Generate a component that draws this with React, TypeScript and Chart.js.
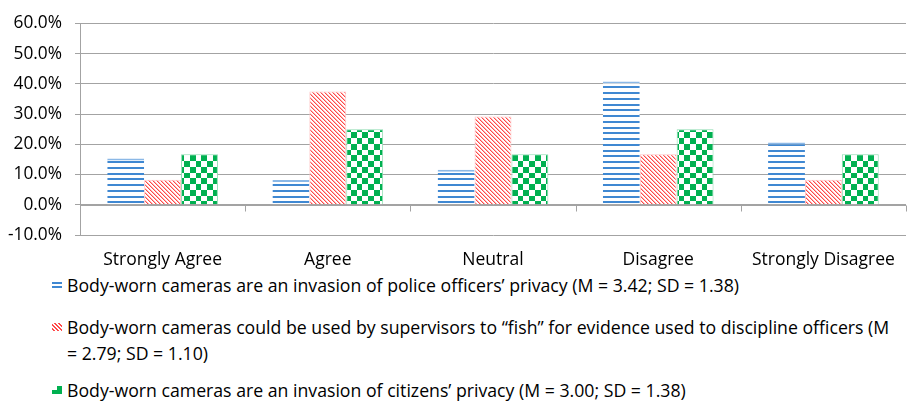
import React, { useEffect, useRef } from "react";
import { Chart, registerables } from "chart.js";

Chart.register(...registerables);

const categories = ["Strongly Agree", "Agree", "Neutral", "Disagree", "Strongly Disagree"];
const policePrivacy = [15.3, 8.2, 11.6, 40.8, 20.6];
const fishEvidence = [8.3, 37.5, 29.2, 16.7, 8.3];
const citizensPrivacy = [16.7, 25.0, 16.7, 25.0, 16.7];
const seriesLabels = [
  "Body-worn cameras are an invasion of police officers\u2019 privacy (M = 3.42; SD = 1.38)",
  "Body-worn cameras could be used by supervisors to \u201cfish\u201d for evidence used to discipline officers (M = 2.79; SD = 1.10)",
  "Body-worn cameras are an invasion of citizens\u2019 privacy (M = 3.00; SD = 1.38)",
];
const yTicks = { min: -10, max: 60, step: 10 };

const FONT = "'Open Sans', 'Noto Sans', sans-serif";
const GRID = "#a3a3a3";
const BLUE = "#3f88d2";
const RED = "#ff4a4a";
const GREEN = "#00b050";

function makeTile(w: number, h: number, draw: (c: CanvasRenderingContext2D) => void) {
  const cv = document.createElement("canvas");
  cv.width = w;
  cv.height = h;
  const c = cv.getContext("2d")!;
  c.fillStyle = "#ffffff";
  c.fillRect(0, 0, w, h);
  draw(c);
  return cv;
}

function bluePattern(ctx: CanvasRenderingContext2D) {
  const tile = makeTile(8, 23, (c) => {
    c.fillStyle = BLUE;
    [0, 6, 12, 17].forEach((y) => c.fillRect(0, y, 8, 2));
  });
  return ctx.createPattern(tile, "repeat")!;
}
function redPattern(ctx: CanvasRenderingContext2D) {
  const tile = makeTile(8, 8, (c) => {
    for (let x = 0; x < 8; x++) {
      for (let y = 0; y < 8; y++) {
        const d = (((x - y) % 4) + 4) % 4;
        if (d === 0) {
          c.fillStyle = RED;
          c.fillRect(x, y, 1, 1);
        } else if (d === 1) {
          c.fillStyle = "#ffb3b3";
          c.fillRect(x, y, 1, 1);
        }
      }
    }
  });
  return ctx.createPattern(tile, "repeat")!;
}
function greenPattern(ctx: CanvasRenderingContext2D) {
  const b = [0, 6, 12, 17, 23];
  const tile = makeTile(23, 23, (c) => {
    c.fillStyle = GREEN;
    for (let i = 0; i < 4; i++)
      for (let j = 0; j < 4; j++)
        if ((i + j) % 2 === 0) c.fillRect(b[i], b[j], b[i + 1] - b[i], b[j + 1] - b[j]);
  });
  return ctx.createPattern(tile, "repeat")!;
}

const zeroAxisPlugin = {
  id: "zeroAxis",
  afterDatasetsDraw(chart: any) {
    const { ctx, chartArea, scales } = chart;
    const x = scales.x;
    const y = scales.y;
    const y0 = Math.round(y.getPixelForValue(0)) + 0.5;
    ctx.save();
    ctx.strokeStyle = GRID;
    ctx.lineWidth = 1;
    ctx.beginPath();
    ctx.moveTo(chartArea.left, y0);
    ctx.lineTo(chartArea.right, y0);
    const n = categories.length;
    for (let i = 0; i <= n; i++) {
      let xb: number;
      if (i === 0) xb = chartArea.left;
      else if (i === n) xb = chartArea.right;
      else xb = (x.getPixelForValue(i - 1) + x.getPixelForValue(i)) / 2;
      xb = Math.round(xb) + 0.5;
      ctx.moveTo(xb, y0);
      ctx.lineTo(xb, y0 + 6);
    }
    ctx.stroke();
    ctx.restore();
  },
};

function ChartCanvas() {
  const ref = useRef<HTMLCanvasElement>(null);
  useEffect(() => {
    const canvas = ref.current!;
    const ctx = canvas.getContext("2d")!;
    const chart = new Chart(canvas, {
      type: "bar",
      data: {
        labels: categories,
        datasets: [
          {
            label: seriesLabels[0],
            data: policePrivacy,
            backgroundColor: bluePattern(ctx),
            borderColor: "#8bb8e6",
            borderWidth: { top: 2, left: 0, right: 0, bottom: 0 },
          },
          {
            label: seriesLabels[1],
            data: fishEvidence,
            backgroundColor: redPattern(ctx),
            borderColor: "#ffc4c4",
            borderWidth: { top: 1, left: 1, right: 1, bottom: 0 },
          },
          {
            label: seriesLabels[2],
            data: citizensPrivacy,
            backgroundColor: greenPattern(ctx),
            borderColor: "#8fdcb2",
            borderWidth: { top: 1, left: 1, right: 1, bottom: 0 },
          },
        ],
      },
      options: {
        responsive: false,
        animation: false,
        devicePixelRatio: 1,
        layout: { padding: { top: 14, right: 1, left: 0, bottom: 0 } },
        datasets: { bar: { barPercentage: 1, categoryPercentage: 0.67 } },
        plugins: { legend: { display: false }, tooltip: { enabled: false } },
        scales: {
          x: {
            grid: { display: false },
            border: { display: false },
            ticks: { color: "#000", font: { family: FONT, size: 17.5 }, padding: 7, maxRotation: 0 },
            afterFit: (s: any) => {
              s.height = 35;
            },
          },
          y: {
            min: yTicks.min,
            max: yTicks.max,
            ticks: {
              stepSize: yTicks.step,
              color: "#000",
              font: { family: FONT, size: 17.3 },
              padding: 13,
              callback: (v: any) => Number(v).toFixed(1) + "%",
            },
            grid: { color: GRID, tickColor: GRID, tickLength: 5, lineWidth: 1 },
            border: { display: true, color: GRID },
            afterFit: (s: any) => {
              s.width = 80;
            },
          },
        },
      },
      plugins: [zeroAxisPlugin],
    });
    return () => chart.destroy();
  }, []);
  return (
    <canvas
      ref={ref}
      width={907}
      height={270}
      style={{ position: "absolute", left: 0, top: 0, width: 907, height: 270 }}
    />
  );
}

const iconStyles: React.CSSProperties[] = [
  {
    background: `linear-gradient(${BLUE}, ${BLUE}) 0 1px / 10px 2px no-repeat, linear-gradient(${BLUE}, ${BLUE}) 0 5px / 10px 2px no-repeat`,
  },
  {
    background: `repeating-linear-gradient(45deg, #ffffff 0px, #ffffff 1.4px, ${RED} 1.4px, ${RED} 2.8px)`,
  },
  {
    background: `linear-gradient(#fff, #fff) 0 0 / 5px 4px no-repeat, ${GREEN}`,
  },
];

export default function App() {
  const tops = [272, 314, 377];
  return (
    <div style={{ position: "absolute", left: 0, top: 0, width: 907, height: 402, background: "#fff", overflow: "hidden" }}>
      <ChartCanvas />
      {seriesLabels.map((lab, i) => (
        <div key={i}>
          <div
            style={{
              position: "absolute",
              left: 52,
              top: tops[i] + 9,
              width: 10,
              height: 8,
              ...iconStyles[i],
            }}
          />
          <div
            style={{
              position: "absolute",
              left: 67,
              top: tops[i],
              width: 830,
              fontFamily: FONT,
              fontSize: 17.7,
              lineHeight: "26px",
              color: "#000",
            }}
          >
            {lab}
          </div>
        </div>
      ))}
    </div>
  );
}
